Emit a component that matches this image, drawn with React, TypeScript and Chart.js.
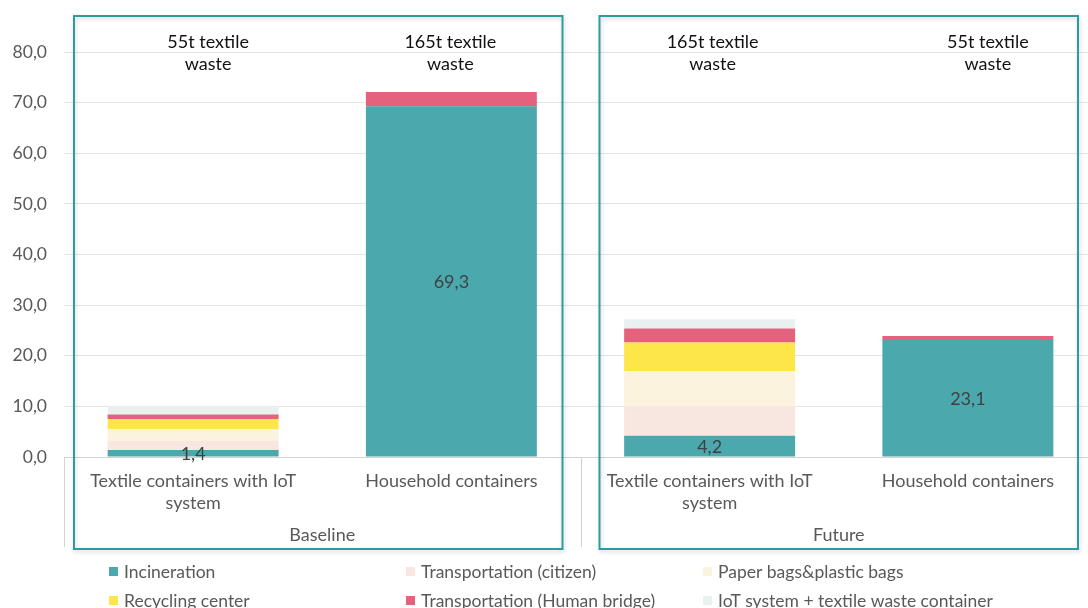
import React, { useEffect, useRef } from "react";
import { Chart, registerables } from "chart.js";

Chart.register(...registerables);

// Categories (two per scenario) and the scenario groups they belong to
const categories: string[][] = [
  ["Textile containers with IoT", "system"],
  ["Household containers"],
  ["Textile containers with IoT", "system"],
  ["Household containers"],
];
const groups = ["Baseline", "Future"];
const wasteNotes: string[][] = [
  ["55t textile", "waste"],
  ["165t textile", "waste"],
  ["165t textile", "waste"],
  ["55t textile", "waste"],
];

// Stacked series values (bottom to top)
const incineration = [1.4, 69.3, 4.2, 23.1];
const transportCitizen = [1.8, 0, 5.8, 0];
const paperPlasticBags = [2.3, 0, 7.0, 0];
const recyclingCenter = [2.0, 0, 5.6, 0];
const transportHumanBridge = [0.9, 2.8, 2.8, 0.8];
const iotContainer = [1.7, 0, 1.8, 0];

const yTicks = { min: 0, max: 80, step: 10 };

const seriesNames = [
  "Incineration",
  "Transportation (citizen)",
  "Paper bags&plastic bags",
  "Recycling center",
  "Transportation (Human bridge)",
  "IoT system + textile waste container",
];
const seriesColors = ["#4BA9AE", "#F8E6E0", "#FBF3DD", "#FCE649", "#E5627F", "#E8F1EF"];
const seriesValues = [
  incineration,
  transportCitizen,
  paperPlasticBags,
  recyclingCenter,
  transportHumanBridge,
  iotContainer,
];

const noteNudge = [15, -1, 3, 20];

const FONT = "Lato, 'Open Sans', sans-serif";
const fmt = (v: number) => v.toFixed(1).replace(".", ",");

const decorations = {
  id: "decorations",
  afterDraw(chart: any) {
    const ctx: CanvasRenderingContext2D = chart.ctx;
    const x = chart.scales.x;
    const y = chart.scales.y;
    const area = chart.chartArea;
    const zeroY = y.getPixelForValue(0);
    const split = x.getPixelForValue(1.5);
    const axisBottom = zeroY + 90;

    ctx.save();

    // value labels on the incineration segments
    const meta = chart.getDatasetMeta(0);
    ctx.font = `18px ${FONT}`;
    ctx.fillStyle = "#404040";
    ctx.textAlign = "center";
    ctx.textBaseline = "middle";
    meta.data.forEach((bar: any, i: number) => {
      const mid = (bar.y + bar.base) / 2;
      ctx.fillText(fmt(incineration[i]), bar.x, mid + 1);
    });

    // category box lines
    ctx.strokeStyle = "#d3d3d3";
    ctx.lineWidth = 1;
    [area.left, split, area.right].forEach((px) => {
      ctx.beginPath();
      ctx.moveTo(Math.round(px) + 0.5, zeroY);
      ctx.lineTo(Math.round(px) + 0.5, axisBottom);
      ctx.stroke();
    });

    // group labels
    ctx.fillStyle = "#595959";
    ctx.font = `18px ${FONT}`;
    ctx.fillText(groups[0], (area.left + split) / 2, zeroY + 78);
    ctx.fillText(groups[1], (split + area.right) / 2, zeroY + 78);

    // waste notes above bars
    ctx.fillStyle = "#111111";
    ctx.font = `18px ${FONT}`;
    wasteNotes.forEach((lines, i) => {
      const cx = x.getPixelForValue(i) + noteNudge[i];
      lines.forEach((t, j) => ctx.fillText(t, cx, 42 + j * 22));
    });

    // scenario frames
    ctx.strokeStyle = "#2A9DA2";
    ctx.lineWidth = 2;
    ctx.shadowColor = "rgba(0,0,0,0.18)";
    ctx.shadowBlur = 4;
    ctx.shadowOffsetX = 1;
    ctx.shadowOffsetY = 2;
    ctx.strokeRect(area.left + 10, 16, split - 18 - (area.left + 10), 533);
    ctx.strokeRect(split + 19, 16, area.right - 19 - (split + 19), 533);
    ctx.shadowColor = "transparent";

    // legend
    ctx.font = `17.5px ${FONT}`;
    ctx.textAlign = "left";
    ctx.textBaseline = "middle";
    const colX = [109, 406, 703];
    const rowY = [571, 600];
    seriesNames.forEach((name, i) => {
      const cx = colX[i % 3];
      const cy = rowY[Math.floor(i / 3)];
      ctx.fillStyle = seriesColors[i];
      ctx.fillRect(cx, cy - 4, 9, 9);
      ctx.fillStyle = "#595959";
      ctx.fillText(name, cx + 15, cy + 1);
    });

    ctx.restore();
  },
};

export default function App() {
  const ref = useRef<HTMLCanvasElement | null>(null);

  useEffect(() => {
    if (!ref.current) return;
    const chart = new Chart(ref.current, {
      type: "bar",
      data: {
        labels: categories,
        datasets: seriesValues.map((vals, i) => ({
          label: seriesNames[i],
          data: vals,
          backgroundColor: seriesColors[i],
          borderWidth: 0,
          barPercentage: 0.662,
          categoryPercentage: 1,
        })),
      },
      options: {
        responsive: false,
        animation: false,
        devicePixelRatio: 1,
        layout: { padding: { top: 52, right: 3, left: 0, bottom: 0 } },
        plugins: { legend: { display: false }, tooltip: { enabled: false } },
        scales: {
          x: {
            stacked: true,
            grid: { display: false, drawTicks: false },
            border: { display: true, color: "#d3d3d3" },
            ticks: {
              padding: 14,
              color: "#595959",
              font: { family: FONT, size: 18, lineHeight: 1.18 },
              maxRotation: 0,
              autoSkip: false,
            },
            afterFit: (s: any) => {
              s.height = 151;
            },
          },
          y: {
            stacked: true,
            min: yTicks.min,
            max: yTicks.max,
            grid: { color: "#e4e4e4", drawTicks: false },
            border: { display: false },
            ticks: {
              stepSize: yTicks.step,
              padding: 17,
              color: "#595959",
              font: { family: FONT, size: 17.5 },
              callback: (v: any) => fmt(Number(v)),
            },
            afterFit: (s: any) => {
              s.width = 64;
            },
          },
        },
      },
      plugins: [decorations],
    });
    return () => chart.destroy();
  }, []);

  return (
    <div style={{ position: "fixed", inset: 0, overflow: "hidden", background: "#fff" }}>
      <canvas ref={ref} width={1100} height={608} style={{ display: "block" }} />
    </div>
  );
}
